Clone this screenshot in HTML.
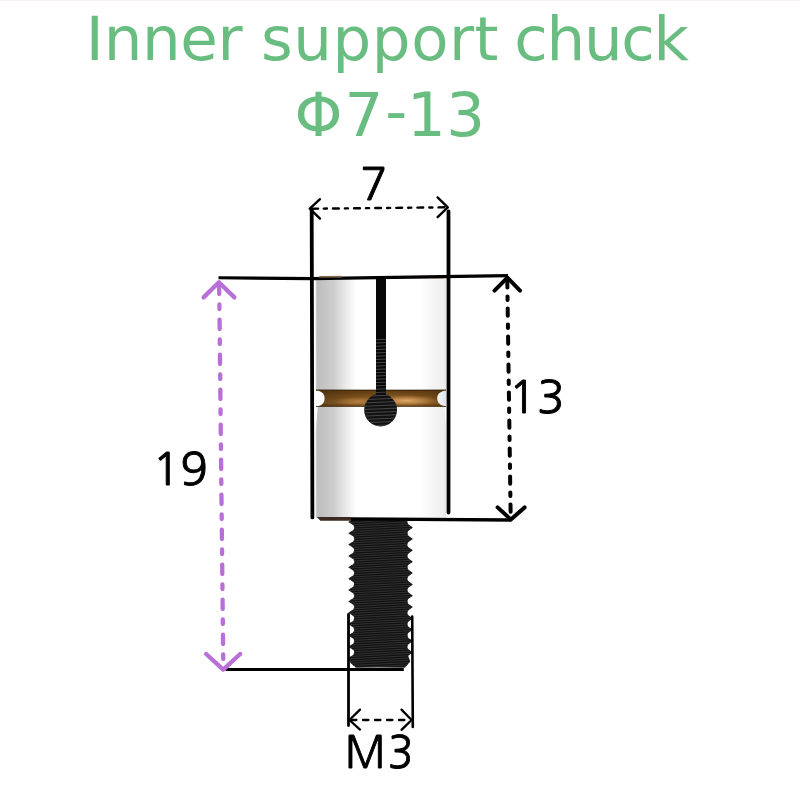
<!DOCTYPE html>
<html lang="en">
<head>
<meta charset="utf-8">
<title>Inner support chuck Φ7-13</title>
<style>
html,body{margin:0;padding:0;background:#ffffff;}
body{width:800px;height:800px;overflow:hidden;position:relative;}
svg{display:block;position:absolute;left:0;top:0;will-change:transform;}
.title{font-family:"DejaVu Sans","Liberation Sans",sans-serif;font-size:61px;fill:#6abd80;}
.lbn{font-family:"NanumGothic","Liberation Sans",sans-serif;font-size:45.6px;fill:#000;stroke:#000;stroke-width:0.9px;stroke-linejoin:round;}
</style>
</head>
<body>
<svg width="800" height="800" viewBox="0 0 800 800">
<defs>
<linearGradient id="metal" x1="315.5" x2="446" y1="0" y2="0" gradientUnits="userSpaceOnUse">
<stop offset="0" stop-color="#e4e4e4"/>
<stop offset="0.012" stop-color="#bebebe"/>
<stop offset="0.06" stop-color="#c3c3c3"/>
<stop offset="0.14" stop-color="#cdcdcd"/>
<stop offset="0.22" stop-color="#e6e6e6"/>
<stop offset="0.31" stop-color="#ffffff"/>
<stop offset="0.81" stop-color="#ffffff"/>
<stop offset="0.89" stop-color="#f6f6f6"/>
<stop offset="0.98" stop-color="#efefef"/>
<stop offset="1" stop-color="#e4e4e4"/>
</linearGradient>
<linearGradient id="grooveV" x1="0" x2="0" y1="389.7" y2="406.8" gradientUnits="userSpaceOnUse">
<stop offset="0" stop-color="#2a1804"/>
<stop offset="0.1" stop-color="#654014"/>
<stop offset="0.45" stop-color="#865822"/>
<stop offset="0.78" stop-color="#a47032"/>
<stop offset="0.92" stop-color="#765020"/>
<stop offset="1" stop-color="#38220a"/>
</linearGradient>
<linearGradient id="grooveEnds" x1="316" x2="446" y1="0" y2="0" gradientUnits="userSpaceOnUse">
<stop offset="0" stop-color="#3c2810" stop-opacity="0.6"/>
<stop offset="0.3" stop-color="#4a2c08" stop-opacity="0.2"/>
<stop offset="0.6" stop-color="#4a2c08" stop-opacity="0"/>
<stop offset="0.85" stop-color="#4a2c08" stop-opacity="0.25"/>
<stop offset="1" stop-color="#4a2c08" stop-opacity="0.6"/>
</linearGradient>
<radialGradient id="grooveH" cx="0" cy="0" r="1" gradientUnits="userSpaceOnUse" gradientTransform="translate(407 400.6) scale(32 5.6)">
<stop offset="0" stop-color="#e6ae6c" stop-opacity="0.95"/>
<stop offset="0.5" stop-color="#d49c5a" stop-opacity="0.55"/>
<stop offset="1" stop-color="#c08848" stop-opacity="0"/>
</radialGradient>
<radialGradient id="grooveH2" cx="0" cy="0" r="1" gradientUnits="userSpaceOnUse" gradientTransform="translate(358 401.4) scale(24 4.6)">
<stop offset="0" stop-color="#c48c4a" stop-opacity="0.7"/>
<stop offset="1" stop-color="#c08848" stop-opacity="0"/>
</radialGradient>
<linearGradient id="notchR" x1="437" x2="446" y1="0" y2="0" gradientUnits="userSpaceOnUse">
<stop offset="0" stop-color="#f6f8fa"/>
<stop offset="1" stop-color="#dfe3e8"/>
</linearGradient>
<linearGradient id="copperTop" x1="0" x2="0" y1="275.7" y2="278" gradientUnits="userSpaceOnUse">
<stop offset="0" stop-color="#a48c6c"/>
<stop offset="1" stop-color="#3c2c1a"/>
</linearGradient>
<clipPath id="holeClip">
<rect x="376" y="279" width="10" height="125"/>
<circle cx="380.6" cy="410" r="16.4"/>
</clipPath>
<clipPath id="screwClip"><path d="M354.7,518.0 L407.9,518.0 L407.8,519.7 Q406.5,521.9 408.1,524.2 L412.8,527.6 L408.1,531.0 Q406.5,533.3 408.1,535.6 L412.8,539.0 L408.1,542.3 Q406.5,544.6 408.1,546.9 L412.8,550.3 L408.1,553.7 Q406.5,556.0 408.1,558.3 L412.8,561.7 L408.1,565.0 Q406.5,567.3 408.1,569.6 L412.8,573.0 L408.1,576.4 Q406.5,578.7 408.1,581.0 L412.8,584.4 L408.1,587.7 Q406.5,590.0 408.1,592.3 L412.8,595.7 L408.1,599.1 Q406.5,601.4 408.1,603.7 L412.8,607.1 L408.1,610.4 Q406.5,612.7 408.1,615.0 L412.8,618.4 L408.1,621.8 Q406.5,624.1 408.1,626.4 L412.8,629.8 L408.1,633.1 Q406.5,635.4 408.1,637.7 L412.8,641.1 L408.1,644.5 Q406.5,646.8 408.1,649.1 L412.8,652.5 L408.1,655.8 L408.1,655.8 L410.2,661.6 L405.0,667.6 L355.8,667.6 L350.8,663.3 L348.3,658.1 L353.5,654.7 Q355.1,652.4 353.5,650.1 L348.3,646.8 L353.5,643.4 Q355.1,641.1 353.5,638.8 L348.3,635.4 L353.5,632.0 Q355.1,629.7 353.5,627.4 L348.3,624.1 L353.5,620.7 Q355.1,618.4 353.5,616.1 L348.3,612.7 L353.5,609.3 Q355.1,607.0 353.5,604.7 L348.3,601.4 L353.5,598.0 Q355.1,595.7 353.5,593.4 L348.3,590.0 L353.5,586.6 Q355.1,584.3 353.5,582.0 L348.3,578.7 L353.5,575.3 Q355.1,573.0 353.5,570.7 L348.3,567.3 L353.5,563.9 Q355.1,561.6 353.5,559.3 L348.3,556.0 L353.5,552.6 Q355.1,550.3 353.5,548.0 L348.3,544.6 L353.5,541.2 Q355.1,538.9 353.5,536.6 L348.3,533.2 L353.5,529.9 Q355.1,527.6 353.5,525.3 L348.3,521.9 L353.2,519.0 Z"/></clipPath>
</defs>

<rect x="0" y="0" width="800" height="1" fill="#f7f1ef"/>
<!-- title -->
<text class="title" x="85.8 103.65 142 180.37 217.6 239.27 260.95 293.22 332.49 371.81 411.13 449.02 474.5 494.38 514.25 546.62 583.92 621.23 653.6" y="60">Inner support chuck</text>
<text class="title" x="294.5 344.62 385.35 407 446.27" y="136.4 136.4 132.4 136.4 136.4">Φ7-13</text>

<!-- chuck body -->
<path d="M315.5,279.6 L446,278 L446,390 L315.5,390 Z M317.8,406.6 L444.4,406.6 L446,428 L446,517.4 L315.5,517.4 L315.5,432 Z" fill="url(#metal)"/>
<!-- top copper edge -->
<rect x="386" y="277.6" width="58" height="1.2" fill="#c9a27e" opacity="0.7"/>
<!-- groove -->
<rect x="316" y="389.7" width="130" height="17.1" fill="url(#grooveV)"/>
<rect x="316" y="389.7" width="130" height="17.1" fill="url(#grooveEnds)"/>
<rect x="370" y="391" width="74" height="15" fill="url(#grooveH)"/>
<rect x="326" y="391" width="60" height="15" fill="url(#grooveH2)"/>
<path d="M315.5,390.8 L318.6,390.8 Q324.6,392.6 324.6,398.4 Q324.6,404.2 318.6,406 L315.5,406 Z" fill="#ffffff"/>
<path d="M446.2,390.8 L443.8,390.8 Q437.2,392.6 437.2,398.4 Q437.2,404.2 443.8,406 L446.2,406 Z" fill="url(#notchR)"/>
<!-- slot and hole -->
<rect x="376" y="279" width="10" height="125" fill="#080808"/>
<circle cx="380.6" cy="410" r="16.4" fill="#121212"/>
<path d="M362,340.3 L400,338.7 M362,343.6 L400,342.0 M362,346.9 L400,345.3 M362,350.2 L400,348.6 M362,353.5 L400,351.9 M362,356.8 L400,355.2 M362,360.1 L400,358.5 M362,363.4 L400,361.8 M362,366.7 L400,365.1 M362,370.0 L400,368.4 M362,373.3 L400,371.7 M362,376.6 L400,375.0 M362,379.9 L400,378.3 M362,383.2 L400,381.6 M362,386.5 L400,384.9 M362,389.8 L400,388.2 M362,393.1 L400,391.5 M362,396.4 L400,394.8 M362,399.7 L400,398.1 M362,403.0 L400,401.4 M362,406.3 L400,404.7 M362,409.6 L400,408.0 M362,412.9 L400,411.3 M362,416.2 L400,414.6 M362,419.5 L400,417.9 M362,422.8 L400,421.2 M362,426.1 L400,424.5" stroke="#4c4c4c" stroke-width="0.9" fill="none" clip-path="url(#holeClip)"/>
<!-- base -->
<path d="M316.8,517 L351,517 L351,520.8 L320.4,520.8 Z" fill="#3a2a22"/>

<!-- screw -->
<path d="M354.7,518.0 L407.9,518.0 L407.8,519.7 Q406.5,521.9 408.1,524.2 L412.8,527.6 L408.1,531.0 Q406.5,533.3 408.1,535.6 L412.8,539.0 L408.1,542.3 Q406.5,544.6 408.1,546.9 L412.8,550.3 L408.1,553.7 Q406.5,556.0 408.1,558.3 L412.8,561.7 L408.1,565.0 Q406.5,567.3 408.1,569.6 L412.8,573.0 L408.1,576.4 Q406.5,578.7 408.1,581.0 L412.8,584.4 L408.1,587.7 Q406.5,590.0 408.1,592.3 L412.8,595.7 L408.1,599.1 Q406.5,601.4 408.1,603.7 L412.8,607.1 L408.1,610.4 Q406.5,612.7 408.1,615.0 L412.8,618.4 L408.1,621.8 Q406.5,624.1 408.1,626.4 L412.8,629.8 L408.1,633.1 Q406.5,635.4 408.1,637.7 L412.8,641.1 L408.1,644.5 Q406.5,646.8 408.1,649.1 L412.8,652.5 L408.1,655.8 L408.1,655.8 L410.2,661.6 L405.0,667.6 L355.8,667.6 L350.8,663.3 L348.3,658.1 L353.5,654.7 Q355.1,652.4 353.5,650.1 L348.3,646.8 L353.5,643.4 Q355.1,641.1 353.5,638.8 L348.3,635.4 L353.5,632.0 Q355.1,629.7 353.5,627.4 L348.3,624.1 L353.5,620.7 Q355.1,618.4 353.5,616.1 L348.3,612.7 L353.5,609.3 Q355.1,607.0 353.5,604.7 L348.3,601.4 L353.5,598.0 Q355.1,595.7 353.5,593.4 L348.3,590.0 L353.5,586.6 Q355.1,584.3 353.5,582.0 L348.3,578.7 L353.5,575.3 Q355.1,573.0 353.5,570.7 L348.3,567.3 L353.5,563.9 Q355.1,561.6 353.5,559.3 L348.3,556.0 L353.5,552.6 Q355.1,550.3 353.5,548.0 L348.3,544.6 L353.5,541.2 Q355.1,538.9 353.5,536.6 L348.3,533.2 L353.5,529.9 Q355.1,527.6 353.5,525.3 L348.3,521.9 L353.2,519.0 Z" fill="#121212"/>
<g clip-path="url(#screwClip)" fill="none">
<path d="M347,522.7 L414,519.3 M347,525.0 L414,521.6 M347,527.2 L414,523.8 M347,529.5 L414,526.1 M347,531.8 L414,528.4 M347,534.0 L414,530.6 M347,536.3 L414,532.9 M347,538.6 L414,535.2 M347,540.9 L414,537.5 M347,543.1 L414,539.7 M347,545.4 L414,542.0 M347,547.7 L414,544.3 M347,549.9 L414,546.5 M347,552.2 L414,548.8 M347,554.5 L414,551.1 M347,556.7 L414,553.3 M347,559.0 L414,555.6 M347,561.3 L414,557.9 M347,563.6 L414,560.2 M347,565.8 L414,562.4 M347,568.1 L414,564.7 M347,570.4 L414,567.0 M347,572.6 L414,569.2 M347,574.9 L414,571.5 M347,577.2 L414,573.8 M347,579.4 L414,576.0 M347,581.7 L414,578.3 M347,584.0 L414,580.6 M347,586.3 L414,582.9 M347,588.5 L414,585.1 M347,590.8 L414,587.4 M347,593.1 L414,589.7 M347,595.3 L414,591.9 M347,597.6 L414,594.2 M347,599.9 L414,596.5 M347,602.1 L414,598.7 M347,604.4 L414,601.0 M347,606.7 L414,603.3 M347,609.0 L414,605.6 M347,611.2 L414,607.8 M347,613.5 L414,610.1 M347,615.8 L414,612.4 M347,618.0 L414,614.6 M347,620.3 L414,616.9 M347,622.6 L414,619.2 M347,624.8 L414,621.4 M347,627.1 L414,623.7 M347,629.4 L414,626.0 M347,631.7 L414,628.3 M347,633.9 L414,630.5 M347,636.2 L414,632.8 M347,638.5 L414,635.1 M347,640.7 L414,637.3 M347,643.0 L414,639.6 M347,645.3 L414,641.9 M347,647.5 L414,644.1 M347,649.8 L414,646.4 M347,652.1 L414,648.7 M347,654.4 L414,651.0 M347,656.6 L414,653.2 M347,658.9 L414,655.5 M347,661.2 L414,657.8 M347,663.4 L414,660.0 M347,665.7 L414,662.3 M347,668.0 L414,664.6 M347,670.2 L414,666.8" stroke="#343434" stroke-width="0.9"/>
</g>

<!-- black outline lines -->
<g stroke="#000" fill="none" stroke-linecap="butt">
<polyline points="218.5,277.8 312,278.6 508,275.6" stroke-width="3.1"/>
<line x1="351" y1="518.9" x2="511" y2="520" stroke-width="3.4"/>
<line x1="225.6" y1="669.4" x2="403.8" y2="669.4" stroke-width="3"/>
</g>
<path d="M318.4,278 L319.6,275.9 L341.4,275.7 L342,278 Z" fill="url(#copperTop)"/>
<g stroke="#000" fill="none" stroke-linecap="round">
<line x1="311.7" y1="210" x2="312.4" y2="517.4" stroke-width="3.8"/>
<line x1="448.5" y1="211.5" x2="448.5" y2="512.6" stroke-width="3.8"/>
<line x1="348.5" y1="614.5" x2="348.5" y2="725.5" stroke-width="2.8"/>
<line x1="412.2" y1="616.5" x2="412.8" y2="727" stroke-width="2.6"/>
</g>

<!-- dimension 7 -->
<g stroke="#000" fill="none" stroke-linecap="round" stroke-linejoin="round" stroke-width="2.4">
<path d="M320,199.2 L309.8,208.7 L320,218.6"/>
<path d="M437.6,197.4 L447.8,207.3 L437.6,217.2"/>
<line x1="311" y1="208.7" x2="318" y2="208.6"/>
<line x1="323.8" y1="208.6" x2="446.5" y2="207.3" stroke-dasharray="3.1 6.1 5.8 6.1"/>
</g>

<!-- dimension M3 -->
<g stroke="#000" fill="none" stroke-linecap="round" stroke-linejoin="round" stroke-width="2.3">
<path d="M360,709.6 L349.4,720 L360,729.6"/>
<path d="M401.5,709.6 L411.6,720 L401.5,729.8"/>
<line x1="351" y1="720" x2="411" y2="720" stroke-dasharray="5.4 6.6"/>
</g>

<!-- dimension 13 -->
<g stroke="#000" fill="none" stroke-linecap="round" stroke-linejoin="round" stroke-width="4">
<path d="M494.5,290.6 L507.4,277.6 L520,290.6"/>
<path d="M497.6,507.4 L510.9,519.6 L524.6,507.4"/>
<line x1="507.3" y1="279" x2="507.4" y2="287.4"/>
<line x1="507.5" y1="296.4" x2="510.7" y2="518" stroke-dasharray="3.5 8.5 7.4 8.6"/>
</g>

<!-- dimension 19 -->
<g stroke="#b870d8" fill="none" stroke-linecap="round" stroke-linejoin="round" stroke-width="4.3">
<path d="M203.6,297.4 L218.9,282.2 L234.4,297.4"/>
<path d="M206.2,654 L223.2,669.6 L240.2,654"/>
<line x1="219.1" y1="284" x2="219.2" y2="294"/>
<line x1="219.4" y1="304.4" x2="223.3" y2="667" stroke-dasharray="4.6 10.6 9.4 10.4"/>
</g>

<!-- labels -->
<text class="lbn" x="360.07" y="200">7</text>
<text class="lbn" x="508.85 537.05" y="413">13</text>
<text class="lbn" x="152.55 180.18" y="485">19</text>
<text class="lbn" transform="scale(0.93 1)" x="370.6 417" y="768">M3</text>
</svg>
</body>
</html>
